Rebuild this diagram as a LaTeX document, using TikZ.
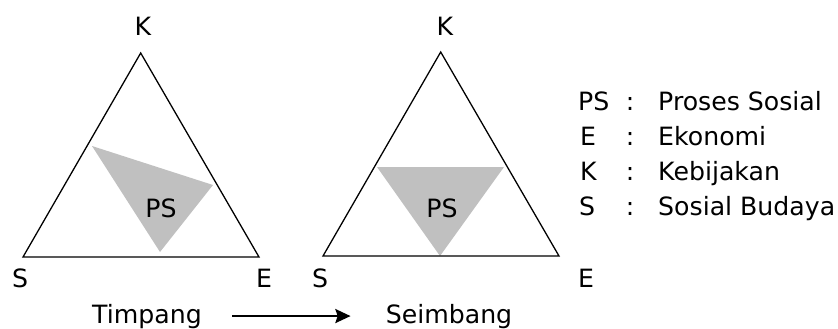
\documentclass[tikz,border=0pt]{standalone}
\usepackage{fontspec}
\setmainfont{DejaVu Sans}
\usetikzlibrary{arrows.meta}
\definecolor{psgray}{RGB}{192,192,192}

\begin{document}
\begin{tikzpicture}[x=0.03cm, y=-0.03cm]
        % Define styles
        \tikzset{
            label/.style={inner sep=0pt, anchor=base, font=\fontsize{21.5}{26}\selectfont},
            legend/.style={label, anchor=base west},
            side/.style={draw, line width=1.1pt, line join=miter},
            ps/.style={fill=psgray},
            arrow/.style={-{Stealth[length=13pt, width=12pt, inset=2pt]}, line width=1.7pt}
        }
        \useasboundingbox (0,0) rectangle (838,328);

        % Timpang
        \coordinate (k_1) at (140.7,53);
        \coordinate (s_1) at (23,257);
        \coordinate (e_1) at (259,257);
        \coordinate (ps_a_1) at (92,146);
        \coordinate (ps_b_1) at (213,185);
        \coordinate (ps_c_1) at (160,252);
        \fill[ps] (ps_a_1) -- (ps_b_1) -- (ps_c_1) -- cycle;
        \draw[side] (k_1) -- (e_1) -- (s_1) -- cycle;
        \node[label] (k_label_1) at (143,35) {K};
        \node[label] (s_label_1) at (20,287) {S};
        \node[label] (e_label_1) at (264,287) {E};
        \node[label] (ps_label_1) at (161,217) {PS};

        % Seimbang
        \coordinate (k_2) at (440.7,52);
        \coordinate (s_2) at (323,256);
        \coordinate (e_2) at (559,256);
        \coordinate (ps_a_2) at (377,167);
        \coordinate (ps_b_2) at (504,167);
        \coordinate (ps_c_2) at (440,256);
        \fill[ps] (ps_a_2) -- (ps_b_2) -- (ps_c_2) -- cycle;
        \draw[side] (k_2) -- (e_2) -- (s_2) -- cycle;
        \node[label] (k_label_2) at (445,35) {K};
        \node[label] (s_label_2) at (320,287) {S};
        \node[label] (e_label_2) at (586,287) {E};
        \node[label] (ps_label_2) at (442,217) {PS};

        % Caption
        \node[label] (timpang) at (147,323) {Timpang};
        \node[label] (seimbang) at (449,323) {Seimbang};
        \draw[arrow, shorten <=0.9cm, shorten >=1.05cm] (timpang.east) -- (seimbang.west);

        % Legend
        \node[legend] (key_ps) at (578,110) {PS};
        \node[legend] (key_e) at (580,145) {E};
        \node[legend] (key_k) at (580,180) {K};
        \node[legend] (key_s) at (579,215) {S};
        \node[label] (colon_ps) at (630,110) {:};
        \node[label] (colon_e) at (630,145) {:};
        \node[label] (colon_k) at (630,180) {:};
        \node[label] (colon_s) at (630,215) {:};
        \node[legend] (text_ps) at (658,110) {Proses Sosial};
        \node[legend] (text_e) at (658,145) {Ekonomi};
        \node[legend] (text_k) at (658,180) {Kebijakan};
        \node[legend] (text_s) at (658,215) {Sosial Budaya};
    \end{tikzpicture}
\end{document}
